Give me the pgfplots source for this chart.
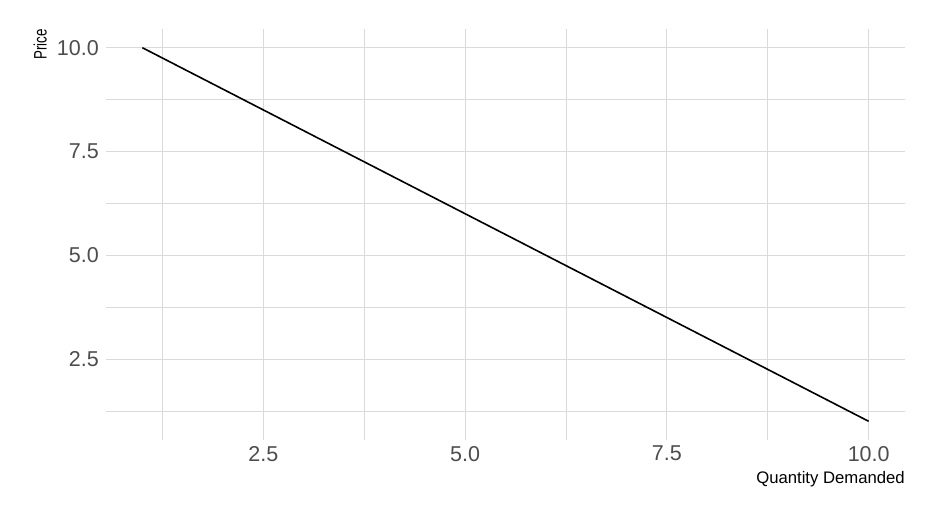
\documentclass[border=0pt]{standalone}
\usepackage{pgfplots}
\pgfplotsset{compat=1.18}
\usepackage{graphicx}
\usepackage{fontspec}
\setmainfont{Liberation Sans}
\definecolor{gridc}{RGB}{218,218,218}
\definecolor{tickc}{RGB}{77,77,77}
\begin{document}
\begin{tikzpicture}[x=1pt,y=1pt]
\path[use as bounding box] (0,0) rectangle (945,506);
\begin{axis}[
  at={(106pt,66pt)}, anchor=south west,
  scale only axis, width=799pt, height=411pt,
  xmin=0.55, xmax=10.45, ymin=0.55, ymax=10.45,
  xtick={2.5,5,7.5,10}, ytick={2.5,5,7.5,10},
  minor xtick={1.25,3.75,6.25,8.75}, minor ytick={1.25,3.75,6.25,8.75},
  grid=both,
  major grid style={draw=gridc, line width=0.9pt},
  minor grid style={draw=gridc, line width=0.7pt},
  axis line style={draw=none},
  major tick style={draw=none}, minor tick style={draw=none},
  /pgf/number format/assume math mode=true,
  /pgf/number format/.cd, fixed, fixed zerofill, precision=1, /pgfplots/.cd,
  ticklabel style={font=\fontsize{21.5}{24}\selectfont, text=tickc, inner sep=0pt},
  xticklabel style={anchor=north, yshift=-6pt},
  yticklabel style={anchor=east, xshift=-7pt},
  xlabel={Quantity Demanded},
  xlabel style={at={(axis description cs:1,-0.0754)}, anchor=north east, inner sep=0pt, font=\fontsize{16.7}{20}\selectfont},
  ylabel={\scalebox{0.74}[1]{Price}},
  ylabel style={at={(axis description cs:-0.0738,1)}, rotate=0, anchor=south east, inner sep=0pt, font=\fontsize{18}{20}\selectfont},
]
\addplot[black, line width=1.6pt] coordinates {(1,10) (10,1)};
\end{axis}
\end{tikzpicture}
\end{document}
